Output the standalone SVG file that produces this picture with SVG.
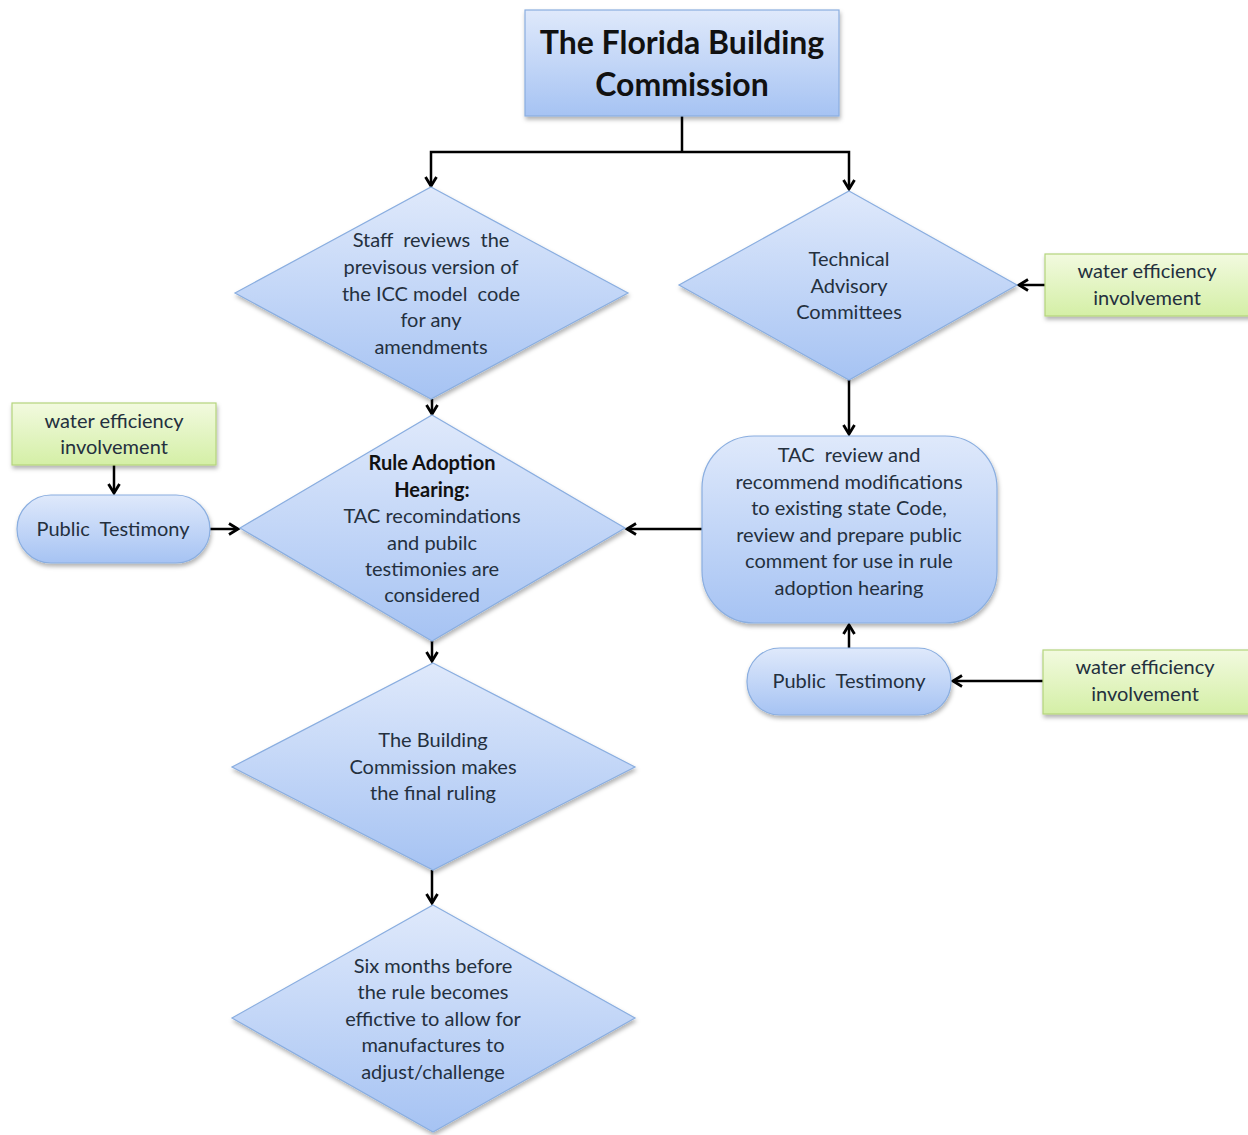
<svg xmlns="http://www.w3.org/2000/svg" width="1248" height="1135" viewBox="0 0 1248 1135">
<defs>
<linearGradient id="gb" x1="0" y1="0" x2="0" y2="1">
<stop offset="0" stop-color="#dfe9fb"/>
<stop offset="1" stop-color="#a6c3f3"/>
</linearGradient>
<linearGradient id="gg" x1="0" y1="0" x2="0" y2="1">
<stop offset="0" stop-color="#f2fadf"/>
<stop offset="1" stop-color="#d4efa6"/>
</linearGradient>
<filter id="sh" x="-10%" y="-10%" width="125%" height="130%">
<feDropShadow dx="1" dy="3" stdDeviation="2" flood-color="#000" flood-opacity="0.3"/>
</filter>
<marker id="ar" viewBox="0 0 14 14" refX="11" refY="7" markerWidth="14" markerHeight="14" markerUnits="userSpaceOnUse" orient="auto">
<path d="M2,1.5 L11,7 L2,12.5" fill="none" stroke="#000" stroke-width="2.8" stroke-linejoin="miter"/>
</marker>
</defs>
<style>
.b{fill:url(#gb);stroke:#8aaee0;stroke-width:1.2;filter:url(#sh)}
.g{fill:url(#gg);stroke:#b4d47c;stroke-width:1.2;filter:url(#sh)}
text{font-family:Lato,"Open Sans","Liberation Sans",sans-serif;font-size:20px;fill:#24303e;text-anchor:middle;white-space:pre}
.t{font-size:32px;font-weight:bold;fill:#111}
.bd{font-weight:bold;fill:#111}
.c{fill:none;stroke:#000;stroke-width:2.5;marker-end:url(#ar)}
.l{fill:none;stroke:#000;stroke-width:2.5}
</style>
<rect width="1248" height="1135" fill="#fff"/>
<g id="connectors">
<polyline class="l" points="682,116 682,152"/>
<polyline class="c" points="682,152 431,152 431,186"/>
<polyline class="c" points="682,152 849,152 849,189"/>
<polyline class="c" points="432,399 432,414"/>
<polyline class="c" points="849,380 849,434"/>
<polyline class="c" points="1045,285 1019,285"/>
<polyline class="c" points="114,465 114,493"/>
<polyline class="c" points="210,529 238,529"/>
<polyline class="c" points="702,529 627,529"/>
<polyline class="c" points="849,648 849,625"/>
<polyline class="c" points="1043,681 953,681"/>
<polyline class="c" points="432,641 432,661"/>
<polyline class="c" points="432,870 432,903"/>
</g>
<g id="florida-building-commission">
<rect class="b" x="525" y="10" width="314" height="106"/>
<text class="t" x="682" y="54">The Florida Building</text>
<text class="t" x="682" y="96">Commission</text>
</g>
<g id="staff-reviews">
<polygon class="b" points="431,187 628,293 431,399 235,293"/>
<text x="431" y="247" xml:space="preserve">Staff  reviews  the</text>
<text x="431" y="274">previsous version of</text>
<text x="431" y="301" xml:space="preserve">the ICC model  code</text>
<text x="431" y="327">for any</text>
<text x="431" y="354">amendments</text>
</g>
<g id="technical-advisory-committees">
<polygon class="b" points="849,191 1017,285 849,380 679,285"/>
<text x="849" y="266">Technical</text>
<text x="849" y="293">Advisory</text>
<text x="849" y="319">Committees</text>
</g>
<g id="water-efficiency-1">
<rect class="g" x="1045" y="254" width="206" height="62"/>
<text x="1147" y="278">water efficiency</text>
<text x="1147" y="305">involvement</text>
</g>
<g id="water-efficiency-2">
<rect class="g" x="12" y="403" width="204" height="62"/>
<text x="114" y="428">water efficiency</text>
<text x="114" y="454">involvement</text>
</g>
<g id="public-testimony-1">
<rect class="b" x="17" y="495" width="193" height="68" rx="34"/>
<text x="113" y="536" xml:space="preserve">Public  Testimony</text>
</g>
<g id="rule-adoption-hearing">
<polygon class="b" points="432,415 625,528 432,641 240,528"/>
<text class="bd" x="432" y="470">Rule Adoption</text>
<text class="bd" x="432" y="497">Hearing:</text>
<text x="432" y="523">TAC recomindations</text>
<text x="432" y="550">and pubilc</text>
<text x="432" y="576">testimonies are</text>
<text x="432" y="602">considered</text>
</g>
<g id="tac-review">
<rect class="b" x="702" y="436" width="295" height="187" rx="52"/>
<text x="849" y="462" xml:space="preserve">TAC  review and</text>
<text x="849" y="489">recommend modifications</text>
<text x="849" y="515">to existing state Code,</text>
<text x="849" y="542">review and prepare public</text>
<text x="849" y="568">comment for use in rule</text>
<text x="849" y="595">adoption hearing</text>
</g>
<g id="public-testimony-2">
<rect class="b" x="747" y="648" width="204" height="67" rx="33"/>
<text x="849" y="688" xml:space="preserve">Public  Testimony</text>
</g>
<g id="water-efficiency-3">
<rect class="g" x="1043" y="650" width="208" height="64"/>
<text x="1145" y="674">water efficiency</text>
<text x="1145" y="701">involvement</text>
</g>
<g id="final-ruling">
<polygon class="b" points="433,663 635,767 433,870 232,767"/>
<text x="433" y="747">The Building</text>
<text x="433" y="774">Commission makes</text>
<text x="433" y="800">the final ruling</text>
</g>
<g id="six-months">
<polygon class="b" points="433,905 635,1018 433,1132 232,1018"/>
<text x="433" y="973">Six months before</text>
<text x="433" y="999">the rule becomes</text>
<text x="433" y="1026">effictive to allow for</text>
<text x="433" y="1052">manufactures to</text>
<text x="433" y="1079">adjust/challenge</text>
</g>
</svg>
